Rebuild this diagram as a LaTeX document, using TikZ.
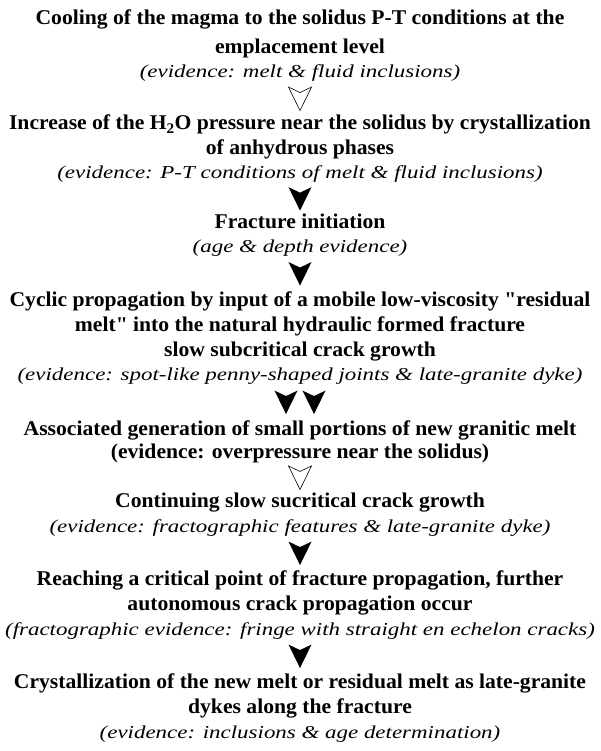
\documentclass[tikz,border=0pt]{standalone}
\usepackage{fontspec}
\setmainfont{Liberation Serif}
\newfontfamily\stepfont[FakeStretch=1.03]{Liberation Serif Bold}
\newfontfamily\evfont[FakeStretch=1.26]{Liberation Serif Italic}
\usetikzlibrary{calc}
\tikzset{
  stepline/.style={anchor=base, inner sep=0pt, font=\stepfont\fontsize{21}{25}\selectfont},
  evline/.style={anchor=base, inner sep=0pt, font=\evfont\fontsize{18.2}{22}\selectfont},
  openhead/.pic={\draw[line width=0.6pt, fill=white, line join=miter]
      (-11.5,-11.5) -- (0,-6) -- (11.5,-11.5) -- (0,12) -- cycle;},
  solidhead/.pic={\fill[black]
      (-11.5,-11.5) -- (0,-6) -- (11.5,-11.5) -- (0,12) -- cycle;}
}
\begin{document}
\begin{tikzpicture}[x=1pt,y=-1pt]
\useasboundingbox[fill=white] (0,0) rectangle (600,751);

% step 1
\node[stepline] (s1a) at (300,25) {Cooling of the magma to the solidus P-T conditions at the};
\node[stepline] (s1b) at (300,54) {emplacement level};
\node[evline]   (e1)  at (300,78) {(evidence: melt \& fluid inclusions)};
% step 2
\node[stepline] (s2a) at (300,130) {Increase of the H\textsubscript{2}O pressure near the solidus by crystallization};
\node[stepline] (s2b) at (300,155) {of anhydrous phases};
\node[evline]   (e2)  at (300,179) {(evidence: P-T conditions of melt \& fluid inclusions)};
% step 3
\node[stepline] (s3a) at (300,229) {Fracture initiation};
\node[evline]   (e3)  at (300,252) {(age \& depth evidence)};
% step 4
\node[stepline] (s4a) at (300,306) {Cyclic propagation by input of a mobile low-viscosity "residual};
\node[stepline] (s4b) at (300,331) {melt" into the natural hydraulic formed fracture};
\node[stepline] (s4c) at (300,356) {slow subcritical crack growth};
\node[evline]   (e4)  at (300,380) {(evidence: spot-like penny-shaped joints \& late-granite dyke)};
% step 5
\node[stepline] (s5a) at (300,435) {Associated generation of small portions of new granitic melt};
\node[stepline] (e5)  at (300,458) {(evidence: overpressure near the solidus)};
% step 6
\node[stepline] (s6a) at (300,507) {Continuing slow sucritical crack growth};
\node[evline]   (e6)  at (300,532) {(evidence: fractographic features \& late-granite dyke)};
% step 7
\node[stepline] (s7a) at (300,585) {Reaching a critical point of fracture propagation, further};
\node[stepline] (s7b) at (300,610) {autonomous crack propagation occur};
\node[evline]   (e7)  at (300,635) {(fractographic evidence: fringe with straight en echelon cracks)};
% step 8
\node[stepline] (s8a) at (300,688) {Crystallization of the new melt or residual melt as late-granite};
\node[stepline] (s8b) at (300,713) {dykes along the fracture};
\node[evline]   (e8)  at (300,738) {(evidence: inclusions \& age determination)};

% arrowheads between the steps
\path (e1.south) -- (s2a.north) pic[pos=0.5] {openhead};
\path (e2.south) -- (s3a.north) pic[pos=0.5] {solidhead};
\path (e3.south) -- (s4a.north) pic[pos=0.5] {solidhead};
\path ($(e4.south)+(-14,0)$) -- ($(s5a.north)+(-14,0)$) pic[pos=0.5] {solidhead};
\path ($(e4.south)+(14,0)$) -- ($(s5a.north)+(14,0)$) pic[pos=0.5] {solidhead};
\path (e5.south) -- (s6a.north) pic[pos=0.5] {openhead};
\path (e6.south) -- (s7a.north) pic[pos=0.5] {solidhead};
\path (e7.south) -- (s8a.north) pic[pos=0.5] {solidhead};
\end{tikzpicture}
\end{document}
